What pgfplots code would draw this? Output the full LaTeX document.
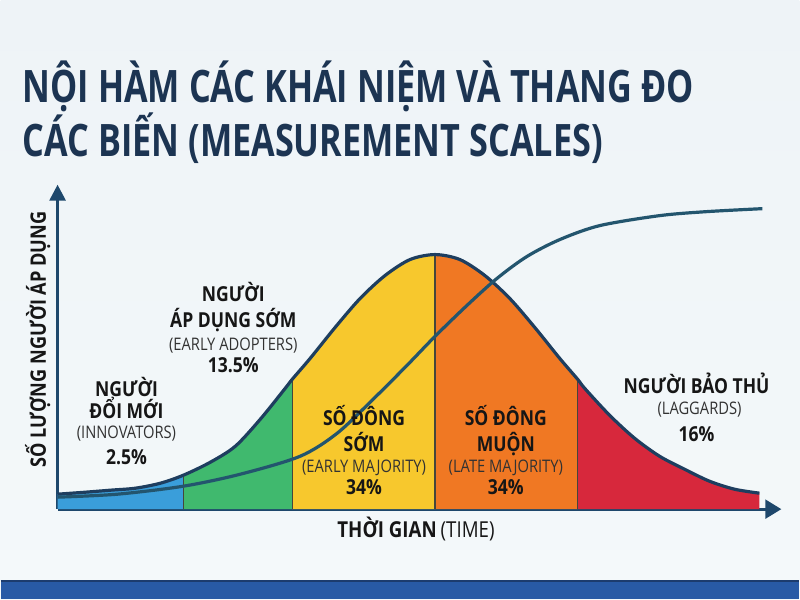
\documentclass[border=0pt]{standalone}
\usepackage{pgfplots}
\pgfplotsset{compat=1.18}
\usetikzlibrary{arrows.meta}
\usepackage{fontspec}
\setmainfont{Open Sans}[FakeStretch=0.85]
\newfontfamily\tf{Open Sans}[FakeStretch=0.765]
\definecolor{bgtop}{RGB}{238,243,247}
\definecolor{bgbot}{RGB}{244,249,250}
\definecolor{band}{RGB}{40,90,165}
\definecolor{bandline}{RGB}{28,60,110}
\definecolor{titlec}{RGB}{28,52,82}
\definecolor{axisc}{RGB}{30,72,108}
\definecolor{bellc}{RGB}{30,62,95}
\definecolor{scurve}{RGB}{35,85,110}
\definecolor{cblue}{RGB}{58,158,218}
\definecolor{cgreen}{RGB}{64,185,110}
\definecolor{cyellow}{RGB}{247,200,45}
\definecolor{corange}{RGB}{240,120,35}
\definecolor{cred}{RGB}{215,40,60}
\definecolor{divc}{RGB}{70,70,60}
\definecolor{txt}{RGB}{22,22,22}
\definecolor{ptxt}{RGB}{50,50,50}
\newcommand{\lb}{\fontsize{15.5}{18}\selectfont\bfseries\color{txt}}
\newcommand{\lp}{\fontsize{13}{15}\selectfont\color{ptxt}}
\pgfplotstableread{
x y
0 15
28 17
53 19
78 21
103 26
126 34
153 47
178 63
203 90
228 121
235 130
253 151
278 182
303 211
328 234
353 250
378 255
403 250
428 234
453 211
478 182
503 151
521 130
528 121
553 94
578 71
603 53
628 40
653 28
678 20
703 16
}\bell
\pgfplotstableread{
x y
0 12
60 15
126 23
183 35
243 53
280 76
316 110
350 144
378 173
410 204
440 231
470 253
503 270
543 284
603 294
650 298
706 301
}\scurve
\begin{document}
\begin{tikzpicture}[x=0.75pt,y=0.75pt]
\shade[top color=bgtop,bottom color=bgbot] (0,0) rectangle (800,600);
\fill[band] (0,0) rectangle (800,18);
\draw[bandline,line width=1pt] (0,18)--(800,18);
\begin{axis}[at={(42.75pt,67.5pt)},anchor=south west,
  scale only axis,width=543.75pt,height=243.75pt,
  xmin=0,xmax=725,ymin=0,ymax=325,clip=false,
  axis x line=bottom,axis y line=left,
  xtick=\empty,ytick=\empty,
  axis line style={draw=axisc,line width=2.2pt},
  x axis line style={-{Triangle[length=12pt,width=14pt]}},
  y axis line style={-{Triangle[length=12pt,width=12pt]}},
]
\addplot[fill=cblue,draw=none] table[restrict x to domain=0:126] {\bell} \closedcycle;
\addplot[fill=cgreen,draw=none] table[restrict x to domain=126:235] {\bell} \closedcycle;
\addplot[fill=cyellow,draw=none] table[restrict x to domain=235:378] {\bell} \closedcycle;
\addplot[fill=corange,draw=none] table[restrict x to domain=378:521] {\bell} \closedcycle;
\addplot[fill=cred,draw=none] table[restrict x to domain=521:703] {\bell} \closedcycle;
\addplot[divc,line width=1pt] coordinates {(126,0) (126,34)};
\addplot[divc,line width=1pt] coordinates {(235,0) (235,130)};
\addplot[divc,line width=1pt] coordinates {(378,0) (378,255)};
\addplot[divc,line width=1pt] coordinates {(521,0) (521,130)};
\addplot[bellc,line width=2.4pt,smooth] table {\bell};
\addplot[scurve,line width=2.4pt,smooth,tension=0.5] table {\scurve};
\end{axis}
% title
\node[anchor=base west,inner sep=0,text=titlec,font=\tf\fontsize{33.6}{40}\selectfont\bfseries] at (22,497) {NỘI HÀM CÁC KHÁI NIỆM VÀ THANG ĐO};
\node[anchor=base west,inner sep=0,text=titlec,font=\tf\fontsize{33.6}{40}\selectfont\bfseries] at (22,443) {CÁC BIẾN (MEASUREMENT SCALES)};
% axis labels
\node[rotate=90,inner sep=0,font=\fontsize{16}{19}\selectfont\bfseries,text=txt] at (37,260) {SỐ LƯỢNG NGƯỜI ÁP DỤNG};
\node[anchor=base,inner sep=0,text=txt] at (416,62) {{\fontsize{16.5}{19}\selectfont\bfseries THỜI GIAN}\hspace{3pt}{\fontsize{16.5}{19}\selectfont (TIME)}};
% innovators
\node[anchor=base,inner sep=0] at (126,203) {\lb NGƯỜI};
\node[anchor=base,inner sep=0] at (126,181) {\lb ĐỔI MỚI};
\node[anchor=base,inner sep=0] at (126,161) {\lp (INNOVATORS)};
\node[anchor=base,inner sep=0] at (126,135) {\lb 2.5\%};
% early adopters
\node[anchor=base,inner sep=0] at (233,298) {\lb NGƯỜI};
\node[anchor=base,inner sep=0] at (233,272) {\lb ÁP DỤNG SỚM};
\node[anchor=base,inner sep=0] at (233,249) {\lp (EARLY ADOPTERS)};
\node[anchor=base,inner sep=0] at (233,227) {\lb 13.5\%};
% early majority
\node[anchor=base,inner sep=0] at (364,174) {\lb SỐ ĐÔNG};
\node[anchor=base,inner sep=0] at (364,148) {\lb SỚM};
\node[anchor=base,inner sep=0] at (364,127) {\lp (EARLY MAJORITY)};
\node[anchor=base,inner sep=0] at (364,105) {\lb 34\%};
% late majority
\node[anchor=base,inner sep=0] at (506,174) {\lb SỐ ĐÔNG};
\node[anchor=base,inner sep=0] at (506,148) {\lb MUỘN};
\node[anchor=base,inner sep=0] at (506,127) {\lp (LATE MAJORITY)};
\node[anchor=base,inner sep=0] at (506,105) {\lb 34\%};
% laggards
\node[anchor=base,inner sep=0] at (697,206) {\lb NGƯỜI BẢO THỦ};
\node[anchor=base,inner sep=0] at (700,185) {\lp (LAGGARDS)};
\node[anchor=base,inner sep=0] at (697,158) {\lb 16\%};
\end{tikzpicture}
\end{document}
